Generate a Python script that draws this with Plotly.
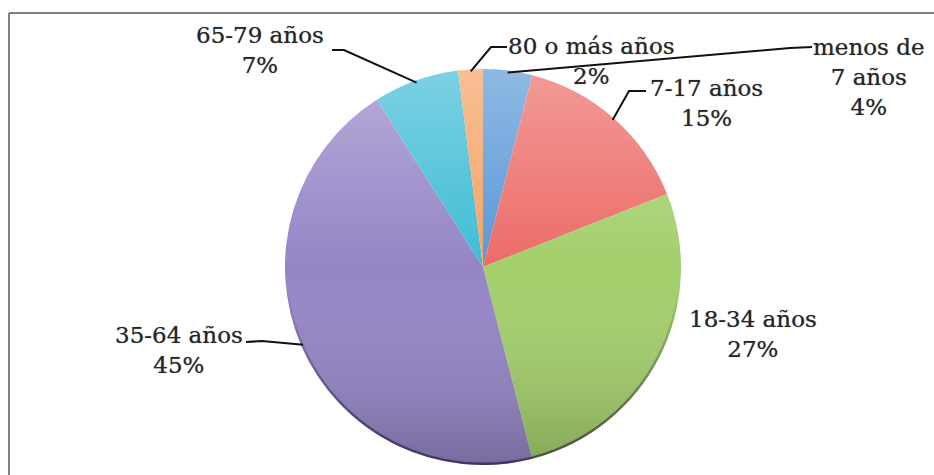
import base64
import math

import plotly.graph_objects as go

# ---- data -------------------------------------------------------------
categories = ["menos de<br>7 años", "7-17 años", "18-34 años",
              "35-64 años", "65-79 años", "80 o más años"]
shares = [4, 15, 27, 45, 7, 2]          # percent of total
label_texts = [f"{c}<br>{v}%" for c, v in zip(categories, shares)]

# ---- styling / layout constants ----------------------------------------
W, H = 934, 475
CX, CY, R = 483, 267, 198                 # pie centre and radius (px)
slice_colors = ["#5a98d8", "#ec6c67", "#a3cf6c", "#9585c6", "#3fbcd6", "#f5a263"]
text_color = "#262626"
font_family = "DejaVu Serif"
font_size = 23

# label centre (px) for each category, in the same order as the data
label_pos = [(869, 77), (706, 103), (753, 334), (179, 350), (260, 50), (591, 61)]
# leader line: start at label side, horizontal elbow, then to the slice rim
leader = {
    0: ((812, 47), (790, 48)),
    1: ((646, 91), (629, 91)),
    3: ((246, 342), (262, 341)),
    4: ((332, 50), (344, 50)),
    5: ((507, 47), (491, 47)),
}

fig = go.Figure()

fig.add_trace(go.Pie(
    values=shares,
    labels=[c.replace("<br>", " ") for c in categories],
    sort=False,
    direction="clockwise",
    rotation=0,
    textinfo="none",
    hoverinfo="label+percent",
    marker=dict(colors=slice_colors, line=dict(width=0)),
    showlegend=False,
    domain=dict(x=[(CX - R) / W, (CX + R) / W],
                y=[1 - (CY + R) / H, 1 - (CY - R) / H]),
))

# Invisible pixel-space axes used to place labels and leader lines
fig.update_xaxes(range=[0, W], visible=False, fixedrange=True)
fig.update_yaxes(range=[H, 0], visible=False, fixedrange=True)
fig.add_trace(go.Scatter(x=[0, W], y=[0, H], mode="markers",
                         marker=dict(opacity=0), hoverinfo="skip",
                         showlegend=False))

# Slice mid-angles (clockwise from 12 o'clock) from the shares
total = sum(shares)
mid_angles = []
cum = 0
for v in shares:
    mid_angles.append(360.0 * (cum + v / 2) / total)
    cum += v

annotations = []
shapes = []
for i, txt in enumerate(label_texts):
    lx, ly = label_pos[i]
    annotations.append(dict(
        x=lx, y=ly, xref="x", yref="y", text=txt, showarrow=False,
        xanchor="center", yanchor="middle", align="center",
        font=dict(family=font_family, size=font_size, color=text_color,
                  shadow="0px 0px 1px rgba(30,30,30,0.55)"),
    ))
    if i in leader:
        (sx, sy), (ex, ey) = leader[i]
        a = math.radians(mid_angles[i])
        px = CX + (R - 2) * math.sin(a)
        py = CY - (R - 2) * math.cos(a)
        shapes.append(dict(
            type="path", xref="x", yref="y",
            path=f"M{sx},{sy} L{ex},{ey} L{px:.1f},{py:.1f}",
            line=dict(color="#111111", width=2),
        ))

# Chart-area border (top and left edges visible)
border = dict(color="#7f8282", width=2)
shapes.append(dict(type="line", xref="x", yref="y", x0=9, y0=13, x1=W, y1=13, line=border))
shapes.append(dict(type="line", xref="x", yref="y", x0=9, y0=13, x1=9, y1=H, line=border))

# Soft vertical shading over the pie (light at top, darker at bottom),
# with a faint dark rim along the lower edge
svg = (
    "<svg xmlns='http://www.w3.org/2000/svg' width='200' height='200' viewBox='0 0 200 200'>"
    "<defs><linearGradient id='g' x1='0' y1='0' x2='0' y2='1'>"
    "<stop offset='0' stop-color='#ffffff' stop-opacity='0.32'/>"
    "<stop offset='0.5' stop-color='#ffffff' stop-opacity='0'/>"
    "<stop offset='1' stop-color='#000000' stop-opacity='0.2'/>"
    "</linearGradient>"
    "<linearGradient id='s' x1='0' y1='0' x2='0' y2='1'>"
    "<stop offset='0.55' stop-color='#000000' stop-opacity='0'/>"
    "<stop offset='1' stop-color='#1a1030' stop-opacity='0.6'/>"
    "</linearGradient></defs>"
    "<circle cx='100' cy='100' r='100' fill='url(#g)'/>"
    "<circle cx='100' cy='100' r='99.4' fill='none' stroke='url(#s)' stroke-width='1.2'/>"
    "</svg>"
)
shade_src = "data:image/svg+xml;base64," + base64.b64encode(svg.encode()).decode()

fig.update_layout(
    width=W, height=H,
    margin=dict(l=0, r=0, t=0, b=0),
    paper_bgcolor="white", plot_bgcolor="white",
    annotations=annotations,
    shapes=shapes,
    images=[dict(source=shade_src, xref="paper", yref="paper",
                 x=(CX - R) / W, y=1 - (CY - R) / H,
                 sizex=2 * R / W, sizey=2 * R / H,
                 xanchor="left", yanchor="top", sizing="stretch",
                 layer="above")],
)

fig.write_html("out.html")
